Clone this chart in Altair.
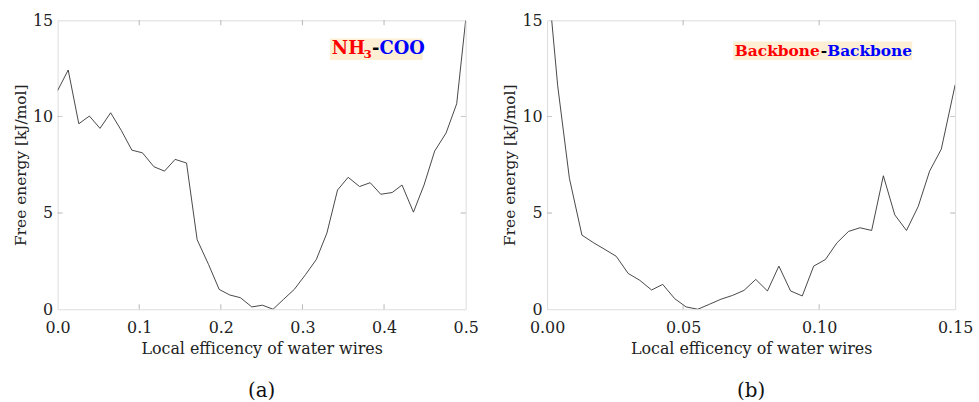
import altair as alt
import pandas as pd

# ---------------- data ----------------
left_x = [0.000, 0.013, 0.026, 0.039, 0.052, 0.065, 0.078, 0.091, 0.104, 0.118,
          0.131, 0.144, 0.158, 0.171, 0.185, 0.198, 0.211, 0.224, 0.238, 0.251,
          0.264, 0.277, 0.290, 0.304, 0.317, 0.330, 0.343, 0.356, 0.370, 0.383,
          0.396, 0.410, 0.422, 0.436, 0.449, 0.462, 0.476, 0.489, 0.500]
left_y = [11.35, 12.42, 9.63, 10.03, 9.39, 10.20, 9.29, 8.26, 8.12, 7.40,
          7.17, 7.78, 7.59, 3.61, 2.32, 1.03, 0.74, 0.60, 0.12, 0.21,
          0.00, 0.52, 1.03, 1.81, 2.58, 3.96, 6.19, 6.85, 6.37, 6.57,
          5.97, 6.06, 6.45, 5.04, 6.45, 8.21, 9.15, 10.67, 15.0]

right_x = [0.0017, 0.0039, 0.0082, 0.0128, 0.0171, 0.0213, 0.0254, 0.0298, 0.0341, 0.0384,
           0.0425, 0.0469, 0.0511, 0.0554, 0.0597, 0.0639, 0.0682, 0.0724, 0.0767, 0.0810,
           0.0852, 0.0895, 0.0938, 0.0980, 0.1023, 0.1065, 0.1108, 0.1150, 0.1193, 0.1236,
           0.1278, 0.1321, 0.1364, 0.1406, 0.1449, 0.1500]
right_y = [15.0, 11.6, 6.80, 3.85, 3.45, 3.10, 2.75, 1.86, 1.50, 1.00,
           1.29, 0.55, 0.12, 0.00, 0.26, 0.52, 0.72, 0.98, 1.55, 0.95,
           2.24, 0.95, 0.69, 2.24, 2.58, 3.44, 4.04, 4.23, 4.09, 6.93,
           4.90, 4.09, 5.33, 7.17, 8.31, 11.65]

left_xticks = [0.0, 0.1, 0.2, 0.3, 0.4, 0.5]
right_xticks = [0.00, 0.05, 0.10, 0.15]
yticks = [0, 5, 10, 15]

x_title = "Local efficency of water wires"
y_title = "Free energy [kJ/mol]"

# annotation boxes (data units): x0, x1, y0, y1, text anchor x, text baseline y
left_box = [0.3336, 0.4473, 12.94, 14.05, 0.3360, 13.25]
right_box = [0.0684, 0.1342, 12.94, 13.90, 0.0690, 13.16]

SERIF = "DejaVu Serif"
W, H = 411, 291


def panel(xs, ys, xmax, xticks, fmt, box, parts, letter):
    df = pd.DataFrame({"x": xs, "y": ys})
    xscale = alt.Scale(domain=[0, xmax], nice=False, zero=False)
    yscale = alt.Scale(domain=[0, 15], nice=False)
    xaxis = alt.Axis(values=xticks, format=fmt, title=x_title, grid=False,
                     domain=False, ticks=False, labelFont=SERIF, labelFontSize=16,
                     labelColor="#222", labelPadding=10, titleFont=SERIF,
                     titleFontSize=16, titleFontWeight="normal", titleColor="#222",
                     titlePadding=6, labelFlush=False)
    yaxis = alt.Axis(values=yticks, format="d", title=y_title, grid=False,
                     domain=False, ticks=False, labelFont=SERIF, labelFontSize=16,
                     labelColor="#222", labelPadding=5, titleFont=SERIF,
                     titleFontSize=15.5, titleFontWeight="normal", titleColor="#222",
                     titlePadding=4, labelFlush=False)

    line = alt.Chart(df).mark_line(color="#333", strokeWidth=0.9, clip=True).encode(
        x=alt.X("x:Q", scale=xscale, axis=xaxis),
        y=alt.Y("y:Q", scale=yscale, axis=yaxis),
    )

    # inward ticks on all four sides
    inner_x = xticks[1:-1]
    inner_y = yticks[1:-1]
    xt = pd.DataFrame({"x": inner_x * 2, "y": [0] * len(inner_x) + [15] * len(inner_x)})
    yt = pd.DataFrame({"x": [0] * len(inner_y) + [xmax] * len(inner_y), "y": inner_y * 2})
    xtick = alt.Chart(xt).mark_tick(orient="vertical", size=10, thickness=1,
                                    color="#999", clip=True).encode(
        x=alt.X("x:Q", scale=xscale), y=alt.Y("y:Q", scale=yscale))
    ytick = alt.Chart(yt).mark_tick(orient="horizontal", size=10, thickness=1,
                                    color="#999", clip=True).encode(
        x=alt.X("x:Q", scale=xscale), y=alt.Y("y:Q", scale=yscale))

    bdf = pd.DataFrame({"x0": [box[0]], "x1": [box[1]], "y0": [box[2]], "y1": [box[3]]})
    rect = alt.Chart(bdf).mark_rect(color="#FCEFD3").encode(
        x=alt.X("x0:Q", scale=xscale), x2="x1:Q",
        y=alt.Y("y0:Q", scale=yscale), y2="y1:Q")

    tdf = pd.DataFrame({"x": [box[4]], "y": [box[5]]})
    texts = []
    for txt, col, size, dx, dy in parts:
        texts.append(alt.Chart(tdf).mark_text(
            text=txt, color=col, font=SERIF, fontWeight="bold", fontSize=size,
            align="left", baseline="alphabetic", dx=dx, dy=dy).encode(
            x=alt.X("x:Q", scale=xscale), y=alt.Y("y:Q", scale=yscale)))

    return alt.layer(line, xtick, ytick, rect, *texts).properties(
        width=W, height=H,
        title=alt.TitleParams(letter, orient="bottom", anchor="middle", font=SERIF,
                              fontSize=20, fontWeight="normal", color="#111",
                              offset=24))


left_parts = [("NH", "#FF0000", 18, 0, 0), ("3", "#FF0000", 12, 32, 4),
              ("-", "#000000", 18, 40.5, 0), ("COO", "#0000FF", 18, 48, 0)]
right_parts = [("Backbone", "#FF0000", 15.5, 0, 0), ("-", "#000000", 15.5, 86.5, 0),
               ("Backbone", "#0000FF", 15.5, 93, 0)]

left = panel(left_x, left_y, 0.5, left_xticks, ".1f", left_box, left_parts, "(a)")
right = panel(right_x, right_y, 0.15, right_xticks, ".2f", right_box, right_parts, "(b)")

chart = alt.hconcat(left, right, spacing=82, bounds="flush").properties(
    padding={"left": 13, "top": 10, "right": 5, "bottom": 5}
).configure_view(stroke="#999", strokeWidth=1).configure(
    background="white", font=SERIF)

chart.save("out.html", embed_options={"renderer": "svg", "actions": False})
